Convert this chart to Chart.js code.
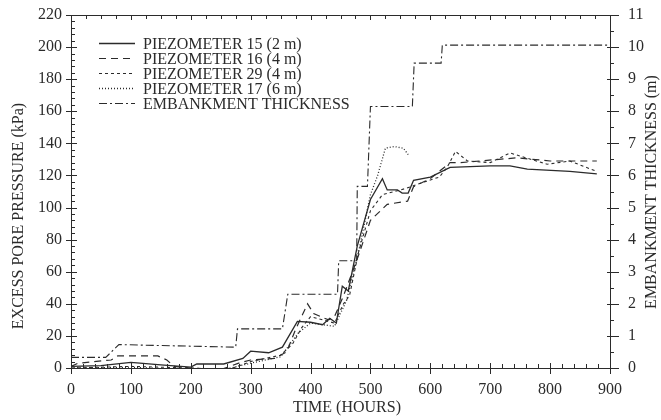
<!DOCTYPE html>
<html>
<head>
<meta charset="utf-8">
<script src="https://cdn.jsdelivr.net/npm/chart.js@4.4.1/dist/chart.umd.min.js"></script>
<style>
  html, body { margin: 0; padding: 0; background: #fff; }
  #wrap { width: 661px; height: 420px; }
</style>
</head>
<body>
<div id="wrap"><canvas id="c" width="661" height="420"></canvas></div>
<script>
// ---- Data ----
const seriesLabels = ['PIEZOMETER 15 (2 m)', 'PIEZOMETER 16 (4 m)', 'PIEZOMETER 29 (4 m)', 'PIEZOMETER 17 (6 m)', 'EMBANKMENT THICKNESS'];

const p15Hours = [0, 50, 100, 150, 200, 210, 255, 287, 300, 330, 353, 378, 400, 420, 432, 443, 453, 463, 478, 500, 520, 528, 545, 553, 563, 572, 600, 633, 700, 733, 762, 833, 878];
const p15Kpa   = [1, 1.5, 3.5, 2, 0.5, 2.5, 2.5, 6, 10.5, 9.5, 13, 29, 28.5, 27, 31, 28, 51, 48, 76, 105, 118, 111, 111, 109, 109, 117, 119, 125, 126, 126, 124, 122.5, 121];

const p16Hours = [0, 12, 67, 78, 145, 160, 172, 200, 250, 280, 300, 340, 360, 375, 395, 405, 417, 430, 440, 455, 478, 500, 528, 562, 572, 583, 600, 633, 650, 745, 800, 878];
const p16Kpa   = [1, 3, 5, 7.5, 7.5, 5, 1, 0, -1, 3, 5, 6, 10, 24, 40, 34, 32, 30, 32, 45, 68, 92, 102, 104, 113, 115, 118, 128, 128, 131, 129, 129];

const p29Hours = [0, 100, 150, 200, 250, 270, 300, 350, 370, 385, 400, 420, 440, 455, 465, 480, 500, 520, 540, 560, 582, 615, 628, 642, 662, 700, 733, 795, 833, 878];
const p29Kpa   = [0, 1, 0.5, 0, -1, 0, 4, 8, 15, 25, 32, 30, 28, 40, 45, 72, 98, 108, 110, 112, 115, 119, 125, 135, 129, 128, 134, 127, 129, 122.5];

const p17Hours = [0, 100, 200, 250, 300, 350, 380, 400, 440, 460, 480, 500, 512, 525, 540, 555, 563];
const p17Kpa   = [0, 0.5, -1, -1.5, 3, 7, 22, 28, 26, 42, 72, 108, 120, 137, 138, 137, 133];

const embHours = [0, 58, 80, 150, 275, 278, 353, 362, 445, 447, 477, 478, 495, 500, 570, 573, 618, 620, 900];
const embMetres = [0.33, 0.33, 0.73, 0.7, 0.65, 1.22, 1.22, 2.3, 2.3, 3.34, 3.34, 5.66, 5.66, 8.15, 8.15, 9.5, 9.5, 10.06, 10.06];

const xTicks = [0, 100, 200, 300, 400, 500, 600, 700, 800, 900];
const yTicks = [0, 20, 40, 60, 80, 100, 120, 140, 160, 180, 200, 220];
const y1Ticks = [0, 1, 2, 3, 4, 5, 6, 7, 8, 9, 10, 11];

const xTitle = 'TIME (HOURS)';
const yTitle = 'EXCESS PORE PRESSURE (kPa)';
const y1Title = 'EMBANKMENT THICKNESS (m)';

// ---- Build ----
const pts = (xs, ys) => xs.map((x, i) => ({ x: x, y: ys[i] }));
const INK = '#2b2b2b';
const SERIF = "'Liberation Serif', 'DejaVu Serif', serif";

const datasets = [
  { label: seriesLabels[0], data: pts(p15Hours, p15Kpa), yAxisID: 'y', borderDash: [] , borderWidth: 1.3},
  { label: seriesLabels[1], data: pts(p16Hours, p16Kpa), yAxisID: 'y', borderDash: [7, 5], borderWidth: 1.2 },
  { label: seriesLabels[2], data: pts(p29Hours, p29Kpa), yAxisID: 'y', borderDash: [3, 3], borderWidth: 1.1 },
  { label: seriesLabels[3], data: pts(p17Hours, p17Kpa), yAxisID: 'y', borderDash: [1, 2], borderWidth: 1.3 },
  { label: seriesLabels[4], data: pts(embHours, embMetres), yAxisID: 'y1', borderDash: [8, 3, 2, 3], borderWidth: 1.1 }
].map(d => Object.assign({
  borderColor: INK, backgroundColor: INK, pointRadius: 0, tension: 0, fill: false
}, d));

const decor = {
  id: 'decor',
  afterDraw(chart) {
    const ctx = chart.ctx;
    const a = chart.chartArea;
    const sx = chart.scales.x, sy = chart.scales.y, sy1 = chart.scales.y1;
    ctx.save();
    ctx.strokeStyle = INK;
    ctx.lineWidth = 1;
    ctx.setLineDash([]);
    // top border
    ctx.beginPath();
    ctx.moveTo(a.left, a.top + 0.5); ctx.lineTo(a.right, a.top + 0.5);
    ctx.stroke();
    ctx.beginPath();
    // bottom axis ticks
    for (let h = 0; h <= 900; h += 20) {
      const px = Math.round(sx.getPixelForValue(h)) + 0.5;
      if (h % 100 === 0) { ctx.moveTo(px, a.bottom - 5); ctx.lineTo(px, a.bottom + 6); }
      else { ctx.moveTo(px, a.bottom - 4); ctx.lineTo(px, a.bottom); }
    }
    // top axis ticks
    for (let h = 0; h <= 900; h += 25) {
      const px = Math.round(sx.getPixelForValue(h)) + 0.5;
      const len = (h % 100 === 0) ? 5 : 4;
      ctx.moveTo(px, a.top); ctx.lineTo(px, a.top + len);
    }
    // left axis ticks
    for (let v = 0; v <= 220; v += 4) {
      const py = Math.round(sy.getPixelForValue(v)) + 0.5;
      if (v % 20 === 0) { ctx.moveTo(a.left - 5, py); ctx.lineTo(a.left + 6, py); }
      else { ctx.moveTo(a.left, py); ctx.lineTo(a.left + 4, py); }
    }
    // right axis ticks
    for (let v = 0; v <= 11; v += 0.5) {
      const py = Math.round(sy1.getPixelForValue(v)) + 0.5;
      if (Number.isInteger(v)) { ctx.moveTo(a.right - 3, py); ctx.lineTo(a.right + 9, py); }
      else { ctx.moveTo(a.right, py); ctx.lineTo(a.right + 4, py); }
    }
    ctx.stroke();

    // axis titles
    ctx.fillStyle = INK;
    ctx.font = '16px ' + SERIF;
    ctx.textAlign = 'center';
    ctx.textBaseline = 'middle';
    ctx.fillText(xTitle, 347, 408);
    ctx.save();
    ctx.translate(19, 216);
    ctx.rotate(-Math.PI / 2);
    ctx.fillText(yTitle, 0, 0);
    ctx.restore();
    ctx.save();
    ctx.translate(652, 192);
    ctx.rotate(-Math.PI / 2);
    ctx.fillText(y1Title, 0, 0);
    ctx.restore();

    // legend (from datasets)
    const lx0 = 99, lx1 = 135, tx = 143, ly0 = 43, dy = 15;
    chart.data.datasets.forEach((ds, i) => {
      const y = ly0 + i * dy + 0.5;
      ctx.beginPath();
      ctx.setLineDash(ds.borderDash || []);
      ctx.lineWidth = ds.borderWidth;
      ctx.strokeStyle = ds.borderColor;
      ctx.moveTo(lx0, y); ctx.lineTo(lx1, y);
      ctx.stroke();
      ctx.setLineDash([]);
      ctx.textAlign = 'left';
      ctx.textBaseline = 'middle';
      ctx.fillText(ds.label, tx, y + 1);
    });
    ctx.restore();
  }
};

const tickFont = { family: SERIF, size: 16 };
const noPad = s => { s.paddingTop = 0; s.paddingBottom = 0; };

new Chart(document.getElementById('c'), {
  type: 'line',
  data: { datasets: datasets },
  options: {
    responsive: false,
    animation: false,
    devicePixelRatio: 1,
    layout: { padding: { top: 15, left: 0, right: 0, bottom: 0 } },
    plugins: { legend: { display: false }, tooltip: { enabled: false } },
    scales: {
      x: {
        type: 'linear', min: 0, max: 900,
        afterBuildTicks: s => { s.ticks = xTicks.map(v => ({ value: v })); },
        ticks: { font: tickFont, color: INK, padding: 12, maxRotation: 0 },
        grid: { display: false, drawTicks: false, tickLength: 0 },
        border: { display: true, color: INK, width: 1 },
        afterFit: s => { s.height = 52; s.paddingLeft = 0; s.paddingRight = 0; }
      },
      y: {
        position: 'left', min: 0, max: 220,
        afterBuildTicks: s => { s.ticks = yTicks.map(v => ({ value: v })); },
        ticks: { font: tickFont, color: INK, padding: 9 },
        grid: { display: false, drawTicks: false, tickLength: 0 },
        border: { display: true, color: INK, width: 1 },
        afterFit: s => { s.width = 71; noPad(s); }
      },
      y1: {
        position: 'right', min: 0, max: 11,
        afterBuildTicks: s => { s.ticks = y1Ticks.map(v => ({ value: v })); },
        ticks: { font: tickFont, color: INK, padding: 18 },
        grid: { display: false, drawTicks: false, tickLength: 0 },
        border: { display: true, color: INK, width: 1 },
        afterFit: s => { s.width = 51; noPad(s); }
      }
    }
  },
  plugins: [decor]
});
</script>
</body>
</html>
